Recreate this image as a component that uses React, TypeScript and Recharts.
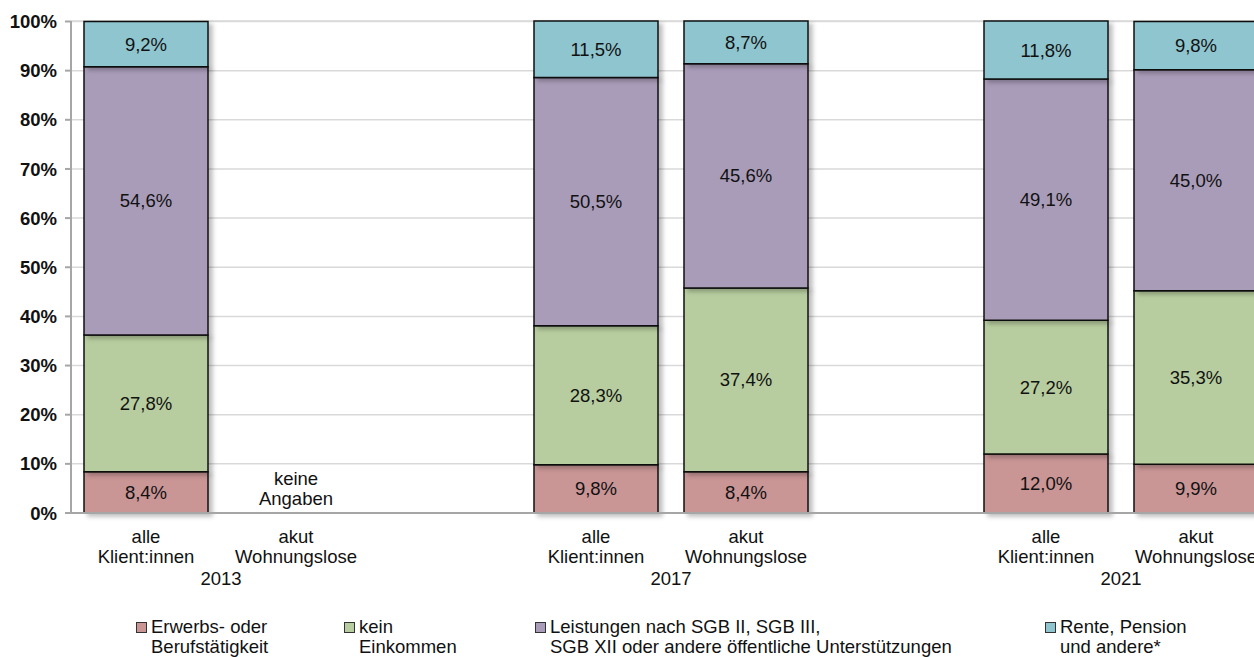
import React from "react";
import { BarChart, Bar, XAxis, YAxis, CartesianGrid, LabelList } from "recharts";

const categories = ["alle13", "akut13", "gapA", "alle17", "akut17", "gapB", "alle21", "akut21"];
const tickLine1 = ["alle", "akut", "", "alle", "akut", "", "alle", "akut"];
const tickLine2 = ["Klient:innen", "Wohnungslose", "", "Klient:innen", "Wohnungslose", "", "Klient:innen", "Wohnungslose"];
const years = ["", "2013", "", "", "2017", "", "", "2021"];
const notes = ["", "keine|Angaben", "", "", "", "", "", ""];

const erwerb = [8.4, null, null, 9.8, 8.4, null, 12.0, 9.9];
const keinEink = [27.8, null, null, 28.3, 37.4, null, 27.2, 35.3];
const leistungen = [54.6, null, null, 50.5, 45.6, null, 49.1, 45.0];
const rente = [9.2, null, null, 11.5, 8.7, null, 11.8, 9.8];

const seriesNames = [
  "Erwerbs- oder|Berufstätigkeit",
  "kein|Einkommen",
  "Leistungen nach SGB II, SGB III,|SGB XII oder andere öffentliche Unterstützungen",
  "Rente, Pension|und andere*",
];
const colors = ["#c99595", "#b7cd9f", "#a99cb9", "#8fc5cf"];
const yTicks = [0, 10, 20, 30, 40, 50, 60, 70, 80, 90, 100];

const data = categories.map((c, i) => ({
  cat: c,
  erwerb: erwerb[i],
  kein: keinEink[i],
  leist: leistungen[i],
  rente: rente[i],
}));

const FONT = "'Liberation Sans', Arial, sans-serif";
const FS = 18.5;
const W = 1290;
const H = 657;
const M = { top: 21, right: 19, bottom: 0, left: 0 };
const slotW = (W - 71 - M.right) / categories.length;

const fmt = (v: any) => (v == null ? "" : v.toFixed(1).replace(".", ",") + "%");

const XTick = (props: any) => {
  const { x, y, payload } = props;
  const i = categories.indexOf(payload.value);
  const note = notes[i];
  return (
    <g>
      {note ? (
        <text x={x} y={y} textAnchor="middle" fontFamily={FONT} fontSize={FS} fill="#111">
          <tspan x={x} dy={-36}>{note.split("|")[0]}</tspan>
          <tspan x={x} dy={20}>{note.split("|")[1]}</tspan>
        </text>
      ) : null}
      <text x={x} y={y} textAnchor="middle" fontFamily={FONT} fontSize={FS} fill="#111">
        <tspan x={x} dy={22}>{tickLine1[i]}</tspan>
        <tspan x={x} dy={20}>{tickLine2[i]}</tspan>
      </text>
      {years[i] ? (
        <text x={x - slotW / 2} y={y + 64} textAnchor="middle" fontFamily={FONT} fontSize={FS} fill="#111">
          {years[i]}
        </text>
      ) : null}
    </g>
  );
};

const legendX = [136, 344, 535, 1045];

const LegendBlock = () => (
  <div style={{ position: "absolute", left: 0, top: 617, width: 1254, height: 40 }}>
    {seriesNames.map((n, i) => {
      const parts = n.split("|");
      return (
        <div
          key={i}
          style={{
            position: "absolute",
            left: legendX[i],
            top: 0,
            fontFamily: FONT,
            fontSize: FS,
            lineHeight: "20px",
            color: "#111",
            whiteSpace: "nowrap",
          }}
        >
          <span
            style={{
              position: "absolute",
              left: 0,
              top: 5,
              width: 9,
              height: 9,
              background: colors[i],
              border: "1.5px solid #333",
            }}
          />
          <div style={{ paddingLeft: 15 }}>
            {parts[0]}
            <br />
            {parts[1]}
          </div>
        </div>
      );
    })}
  </div>
);

const keys = ["erwerb", "kein", "leist", "rente"];

export default function App() {
  return (
    <div style={{ position: "fixed", left: 0, top: 0, width: 1254, height: 657, overflow: "hidden", background: "#fff" }}>
      <BarChart width={W} height={H} data={data} margin={M} barCategoryGap={13}>
        <defs>
          <filter id="shadow" x="-10%" y="-10%" width="130%" height="130%">
            <feDropShadow dx="4" dy="3" stdDeviation="2" floodColor="#000" floodOpacity="0.25" />
          </filter>
        </defs>
        <CartesianGrid vertical={false} stroke="#d9d9d9" strokeWidth={1.5} />
        <XAxis
          dataKey="cat"
          interval={0}
          tick={<XTick />}
          tickLine={false}
          axisLine={{ stroke: "#a6a6a6", strokeWidth: 2 }}
          height={144}
        />
        <YAxis
          width={71}
          domain={[0, 100]}
          ticks={yTicks}
          interval={0}
          tickFormatter={(v: number) => v + "%"}
          tick={{ fontFamily: FONT, fontSize: FS, fontWeight: 700, fill: "#111" }}
          tickLine={{ stroke: "#a6a6a6", strokeWidth: 2 }}
          tickSize={6}
          tickMargin={8}
          axisLine={{ stroke: "#a6a6a6", strokeWidth: 2 }}
        />
        {keys.map((k, i) => (
          <Bar
            key={k}
            dataKey={k}
            name={seriesNames[i].replace("|", " ")}
            stackId="a"
            fill={colors[i]}
            stroke="#111"
            strokeWidth={1.5}
            isAnimationActive={false}
            style={{ filter: "url(#shadow)" }}
          >
            <LabelList
              dataKey={k}
              position="center"
              formatter={fmt}
              style={{ fontFamily: FONT, fontSize: FS, fill: "#111" }}
            />
          </Bar>
        ))}
      </BarChart>
      <LegendBlock />
    </div>
  );
}
